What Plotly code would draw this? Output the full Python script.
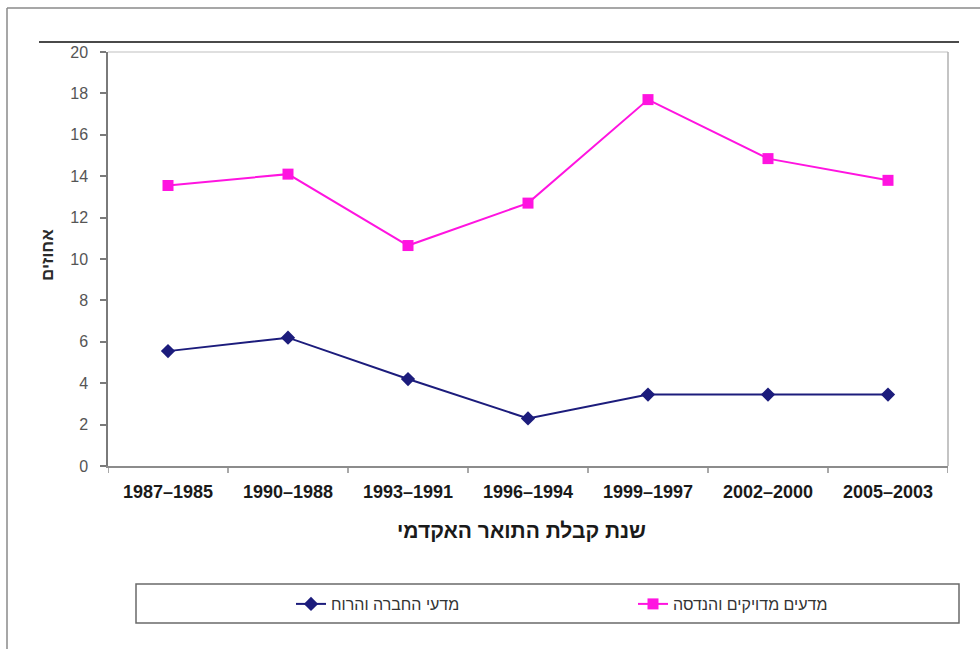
import plotly.graph_objects as go

# Academic degree year groups (category axis)
periods = ["1987–1985", "1990–1988", "1993–1991", "1996–1994",
           "1999–1997", "2002–2000", "2005–2003"]

# Percentages per field of study
social_humanities = [5.55, 6.2, 4.2, 2.3, 3.45, 3.45, 3.45]
exact_engineering = [13.55, 14.1, 10.65, 12.7, 17.7, 14.85, 13.8]

series_names = ["מדעי החברה והרוח", "מדעים מדויקים והנדסה"]
y_ticks = list(range(0, 21, 2))

W, H = 980, 649
L, R, T, B = 108, 32, 52, 183
plot_w = W - L - R
plot_h = H - T - B


def xp(px):
    return (px - L) / plot_w


def yp(py):
    return (H - B - py) / plot_h


fig = go.Figure()
fig.add_trace(go.Scatter(
    x=list(range(len(periods))), y=social_humanities, name=series_names[0],
    mode="lines+markers", legend="legend",
    line=dict(color="#1c1c7c", width=2),
    marker=dict(symbol="diamond", size=11, color="#1c1c7c"),
))
fig.add_trace(go.Scatter(
    x=list(range(len(periods))), y=exact_engineering, name=series_names[1],
    mode="lines+markers", legend="legend2",
    line=dict(color="#ff14e0", width=2),
    marker=dict(symbol="square", size=11, color="#ff14e0"),
))

frame_grey = "#8a8a8a"
shapes = [
    # outer page frame (top and left edges)
    dict(type="line", xref="paper", yref="paper", x0=xp(7), x1=xp(990),
         y0=yp(8), y1=yp(8), line=dict(color=frame_grey, width=1.5)),
    dict(type="line", xref="paper", yref="paper", x0=xp(7), x1=xp(7),
         y0=yp(8), y1=yp(660), line=dict(color=frame_grey, width=1.5)),
    # heavy rule above the chart
    dict(type="line", xref="paper", yref="paper", x0=xp(39), x1=xp(959),
         y0=yp(42), y1=yp(42), line=dict(color="#4a4a4a", width=2)),
    # light plot-area border (top and right)
    dict(type="line", xref="paper", yref="paper", x0=0, x1=1,
         y0=1, y1=1, line=dict(color="#d4d4d4", width=1.5)),
    dict(type="line", xref="paper", yref="paper", x0=1, x1=1,
         y0=0, y1=1, line=dict(color="#b0b0b0", width=1.5)),
    # legend box
    dict(type="rect", xref="paper", yref="paper", x0=xp(136), x1=xp(959),
         y0=yp(584), y1=yp(623), line=dict(color="#6a6a6a", width=1.5),
         fillcolor="rgba(0,0,0,0)"),
]

annotations = [
    dict(text="<b>שנת קבלת התואר האקדמי</b>", xref="paper", yref="paper",
         x=xp(521), y=yp(530), xanchor="center", yanchor="middle",
         showarrow=False,
         font=dict(family="Arial, Liberation Sans", size=21, color="#1a1a1a")),
    dict(text="<b>אחוזים</b>", xref="paper", yref="paper",
         x=xp(48), y=yp(255), xanchor="center", yanchor="middle",
         showarrow=False, textangle=-90,
         font=dict(family="Arial, Liberation Sans", size=17, color="#2a2a2a")),
]

legend_font = dict(family="Arial, Liberation Sans", size=16, color="#333333")

fig.update_layout(
    width=W, height=H,
    margin=dict(l=L, r=R, t=T, b=B, pad=0),
    paper_bgcolor="white", plot_bgcolor="white",
    showlegend=True,
    legend=dict(orientation="h", x=xp(291), y=yp(604), xanchor="left",
                yanchor="middle", font=legend_font,
                bgcolor="rgba(0,0,0,0)", borderwidth=0),
    legend2=dict(orientation="h", x=xp(633), y=yp(604), xanchor="left",
                 yanchor="middle", font=legend_font,
                 bgcolor="rgba(0,0,0,0)", borderwidth=0),
    shapes=shapes,
    annotations=annotations,
    font=dict(family="Arial, Liberation Sans"),
)

fig.update_xaxes(
    range=[-0.5, len(periods) - 0.5],
    tickmode="array", tickvals=list(range(len(periods))), ticktext=periods,
    showgrid=False, zeroline=False,
    showline=True, linecolor="#8c8c8c", linewidth=1.5,
    ticks="", ticklabelstandoff=9,
    tickfont=dict(family="Arial, Liberation Sans", size=18, color="#1a1a1a",
                  weight="bold"),
)
# boundary tick marks between categories
for i in range(len(periods) + 1):
    fig.add_shape(type="line", xref="x", yref="paper", x0=i - 0.5, x1=i - 0.5,
                  y0=0, y1=yp(473), line=dict(color="#8c8c8c", width=1.5))

fig.update_yaxes(
    range=[0, 20], tickmode="array", tickvals=y_ticks,
    showgrid=False, zeroline=False,
    showline=True, linecolor="#7a7a7a", linewidth=1.5,
    ticks="outside", ticklen=6, tickcolor="#7a7a7a", tickwidth=1.5,
    ticklabelstandoff=9,
    tickfont=dict(family="Arial, Liberation Sans", size=16, color="#555555"),
)

fig.write_html("out.html")
